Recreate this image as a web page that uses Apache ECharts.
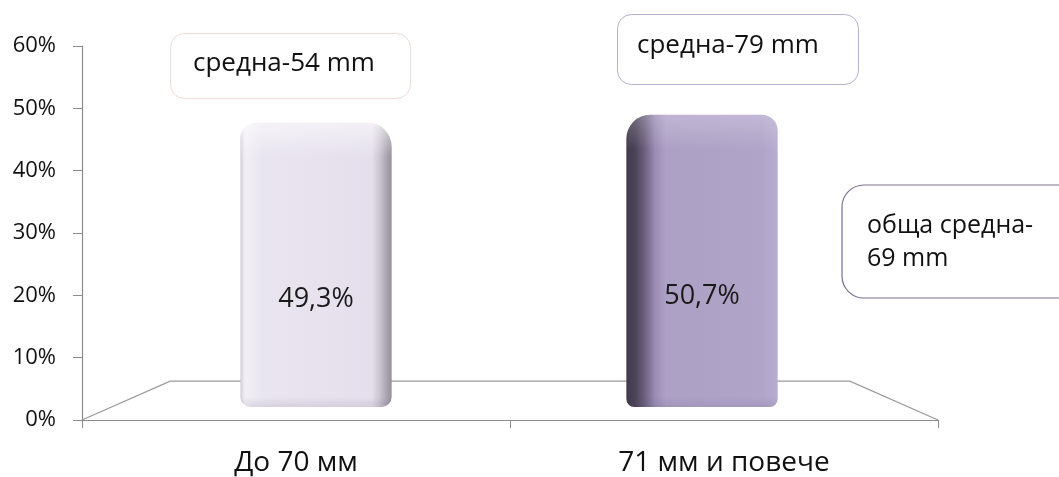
<!DOCTYPE html>
<html>
<head>
<meta charset="utf-8">
<script src="https://cdn.jsdelivr.net/npm/echarts@6/dist/echarts.min.js"></script>
<style>
  html, body { margin: 0; padding: 0; background: #ffffff; }
  #chart { width: 1059px; height: 477px; }
</style>
</head>
<body>
<div id="chart"></div>
<script>
// Share of cases by size group
const categories = ['До 70 мм', '71 мм и повече'];
const shares = [49.3, 50.7];
const shareLabels = ['49,3%', '50,7%'];
const yTicks = { min: 0, max: 60, interval: 10 };
const notes = ['средна-54 mm', 'средна-79 mm', 'обща средна-\n69 mm'];

const FONT = '"Open Sans", "Noto Sans", sans-serif';

// Face shading for each rounded column (light group, dark group)
const barLooks = [
  {
    side: [
      [0, '#d3ced9'], [0.03, '#f1eff5'], [0.15, '#e9e5f0'], [0.87, '#e4dfec'],
      [0.92, '#cbc5d2'], [0.96, '#aea9b5'], [1, '#948f9b']
    ],
    cap: 'rgba(255,255,255,0.55)',
    radius: [16, 24, 10, 10]
  },
  {
    side: [
      [0, '#403a4b'], [0.06, '#4b4459'], [0.12, '#6b607e'], [0.19, '#9a8cb3'],
      [0.26, '#ada0c5'], [0.9, '#b1a4c9'], [1, '#b8acd0']
    ],
    cap: 'rgba(255,255,255,0.22)',
    radius: [24, 16, 8, 8]
  }
];

const chart = echarts.init(document.getElementById('chart'), null, { renderer: 'canvas' });

const option = {
  animation: false,
  backgroundColor: '#ffffff',
  grid: [
    // front plane carrying the visible axes
    { left: 82, right: 121, top: 46, bottom: 55 },
    // column plane set back in depth
    { left: 123, width: 772, top: 61, bottom: 70 }
  ],
  xAxis: [
    {
      type: 'category',
      gridIndex: 0,
      data: categories,
      boundaryGap: true,
      axisLine: { show: true, lineStyle: { color: '#8c8c8c', width: 1.2 } },
      axisTick: { show: true, length: 8, alignWithLabel: false, lineStyle: { color: '#8c8c8c' } },
      axisLabel: { color: '#111', fontFamily: FONT, fontSize: 28, margin: 29 },
      splitLine: { show: false }
    },
    {
      type: 'category',
      gridIndex: 1,
      data: categories,
      show: false
    }
  ],
  yAxis: [
    {
      type: 'value',
      gridIndex: 0,
      min: yTicks.min,
      max: yTicks.max,
      interval: yTicks.interval,
      axisLine: { show: true, lineStyle: { color: '#8c8c8c', width: 1.2 } },
      axisTick: { show: true, length: 9, inside: false, lineStyle: { color: '#8c8c8c' } },
      axisLabel: { formatter: '{value}%', color: '#111', fontFamily: FONT, fontSize: 22, margin: 26 },
      splitLine: { show: false }
    },
    {
      type: 'value',
      gridIndex: 1,
      min: yTicks.min,
      max: yTicks.max,
      show: false
    }
  ],
  series: [
    {
      // perspective floor outline
      type: 'custom',
      xAxisIndex: 0,
      yAxisIndex: 0,
      z: 1,
      silent: true,
      data: [[0, 0]],
      renderItem: function (params, api) {
        const cs = params.coordSys;
        const x0 = cs.x, x1 = cs.x + cs.width, yb = cs.y + cs.height;
        const dx = cs.width * 0.103, dy = cs.height * 0.104;
        return {
          type: 'polyline',
          shape: {
            points: [[x0, yb], [x0 + dx, yb - dy], [x1 - dx, yb - dy], [x1, yb]]
          },
          style: { stroke: '#9a9a9a', lineWidth: 1.3, fill: null }
        };
      }
    },
    {
      // rounded columns
      type: 'custom',
      xAxisIndex: 1,
      yAxisIndex: 1,
      z: 5,
      data: shares.map(function (v, i) { return [i, v]; }),
      renderItem: function (params, api) {
        const i = api.value(0);
        const top = api.coord([i, api.value(1)]);
        const base = api.coord([i, 0]);
        const band = api.size([1, 0])[0];
        const w = band * 0.392;
        const x = top[0] - w / 2;
        const h = base[1] - top[1];
        const look = barLooks[i];
        return {
          type: 'group',
          children: [
            {
              type: 'rect',
              shape: { x: x, y: top[1], width: w, height: h, r: look.radius },
              style: {
                fill: {
                  type: 'linear', x: 0, y: 0, x2: 1, y2: 0,
                  colorStops: look.side.map(function (s) { return { offset: s[0], color: s[1] }; })
                }
              }
            },
            {
              type: 'rect',
              shape: { x: x, y: top[1], width: w, height: h * 0.12, r: [look.radius[0], look.radius[1], 0, 0] },
              style: {
                fill: {
                  type: 'linear', x: 0, y: 0, x2: 0, y2: 1,
                  colorStops: [{ offset: 0, color: look.cap }, { offset: 1, color: 'rgba(255,255,255,0)' }]
                }
              }
            },
            {
              type: 'rect',
              shape: { x: x, y: base[1] - 10, width: w, height: 10, r: [0, 0, look.radius[2], look.radius[3]] },
              style: {
                fill: {
                  type: 'linear', x: 0, y: 0, x2: 0, y2: 1,
                  colorStops: [{ offset: 0, color: 'rgba(80,70,95,0)' }, { offset: 1, color: 'rgba(80,70,95,0.12)' }]
                }
              }
            },
            {
              type: 'text',
              style: {
                text: shareLabels[i],
                x: top[0],
                y: base[1] - h * 0.38,
                align: 'center',
                verticalAlign: 'middle',
                fill: '#1a1a1a',
                font: '27px ' + FONT
              }
            }
          ]
        };
      }
    }
  ],
  graphic: [
    {
      type: 'group',
      children: [
        {
          type: 'rect', left: 170, top: 33, z: 10,
          shape: { width: 240, height: 65, r: 14 },
          style: { fill: '#ffffff', stroke: '#f3dada', lineWidth: 1 }
        },
        {
          type: 'text', x: 193, y: 64, z: 11,
          style: { text: notes[0], fill: '#111', font: '26px ' + FONT, verticalAlign: 'middle' }
        },
        {
          type: 'rect', left: 617, top: 14, z: 10,
          shape: { width: 241, height: 70, r: 14 },
          style: { fill: '#ffffff', stroke: '#b8aed0', lineWidth: 1 }
        },
        {
          type: 'text', x: 637, y: 46, z: 11,
          style: { text: notes[1], fill: '#111', font: '26px ' + FONT, verticalAlign: 'middle' }
        },
        {
          type: 'rect', x: 842, y: 185, z: 10,
          shape: { width: 260, height: 113, r: 22 },
          style: { fill: '#ffffff', stroke: '#7b6f90', lineWidth: 1.2 }
        },
        {
          type: 'text', x: 867, y: 242, z: 11,
          style: { text: notes[2], fill: '#111', font: '25px ' + FONT, lineHeight: 33, verticalAlign: 'middle' }
        }
      ]
    }
  ]
};

chart.setOption(option);
</script>
</body>
</html>
